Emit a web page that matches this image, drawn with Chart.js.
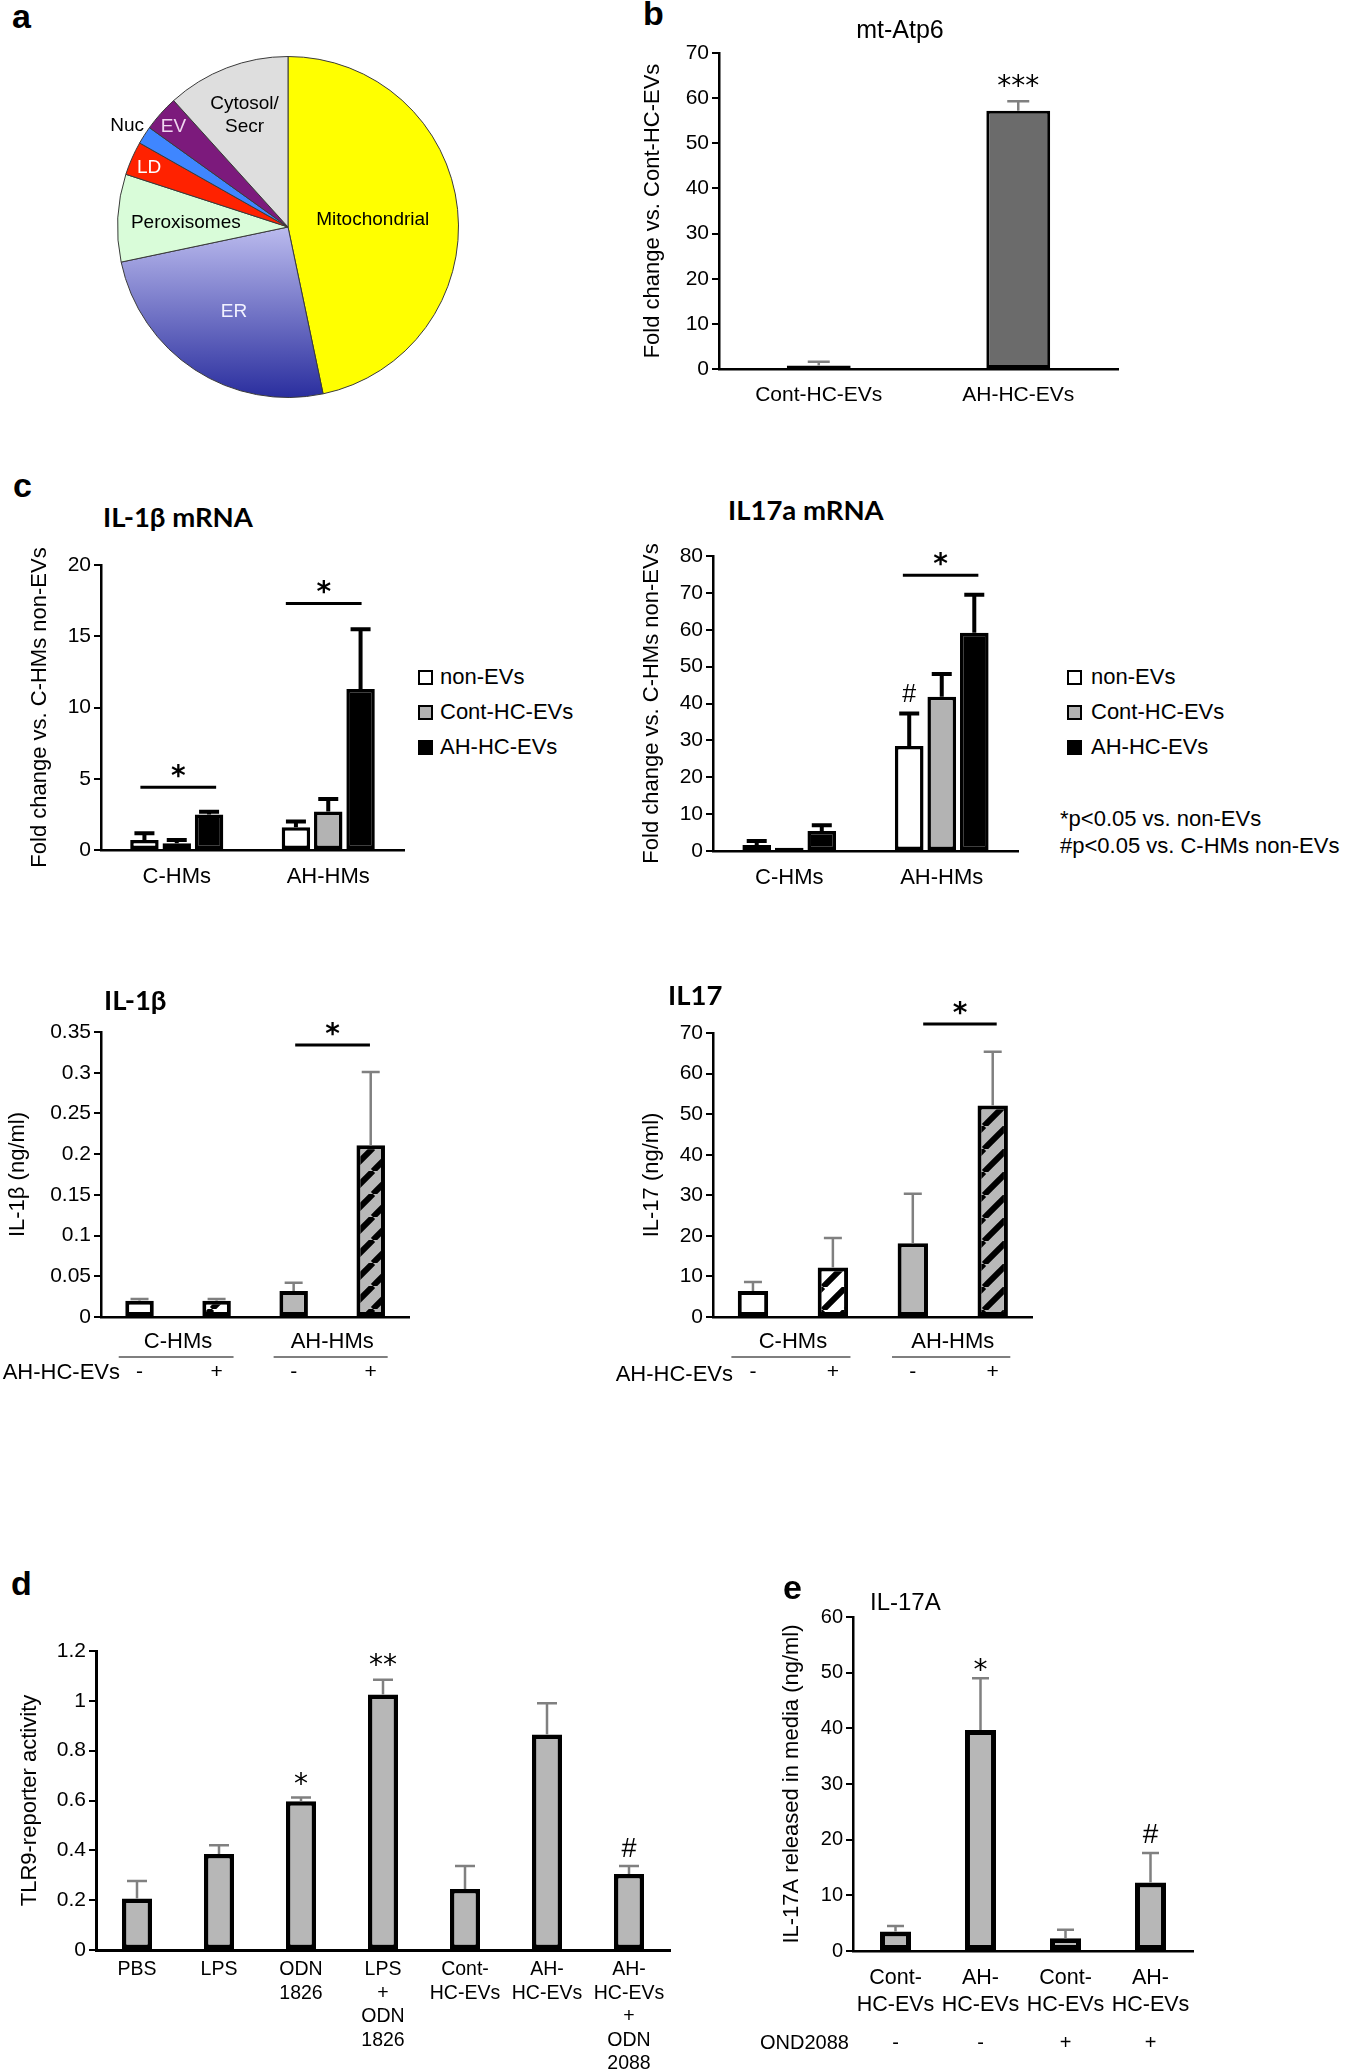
<!DOCTYPE html>
<html><head><meta charset="utf-8"><title>Figure</title>
<script src="https://cdn.jsdelivr.net/npm/chart.js@4.4.1/dist/chart.umd.min.js"></script>
<style>
html,body{margin:0;padding:0;background:#fff;}
body{width:1351px;height:2070px;position:relative;overflow:hidden;}
.box{position:absolute;}
.box canvas{display:block;}
.t{position:absolute;white-space:nowrap;line-height:1;color:#000;font-family:"Liberation Sans",Arial,sans-serif;}
.lg{position:absolute;width:15px;height:15px;box-sizing:border-box;border:2.5px solid #000;}
</style></head><body>
<script>
// ================= DATA =================
// a : subcellular distribution
const pieCategories = ['Mitochondrial', 'ER', 'Peroxisomes', 'LD', 'Nuc', 'EV', ['Cytosol/', 'Secr']];
const pieShares = [46.7, 25.0, 8.3, 3.2, 1.7, 3.4, 11.7];
// b : mt-Atp6
const bCategories = ['Cont-HC-EVs', 'AH-HC-EVs'];
const bMeans = [0.8, 57.2];
const bSem = [0.8, 2.1];
const bTickLabels = ['0', '10', '20', '30', '40', '50', '60', '70'];
// c : IL-1b mRNA
const cGroups = ['C-HMs', 'AH-HMs'];
const cSeries = ['non-EVs', 'Cont-HC-EVs', 'AH-HC-EVs'];
const c1NonEVs = [0.7, 1.6];
const c1NonEVsSem = [0.47, 0.4];
const c1ContEVs = [0.47, 2.7];
const c1ContEVsSem = [0.23, 0.88];
const c1AHEVs = [2.5, 11.3];
const c1AHEVsSem = [0.19, 4.2];
const c1TickLabels = ['0', '5', '10', '15', '20'];
// c : IL17a mRNA
const c2NonEVs = [1.6, 28.5];
const c2NonEVsSem = [1.1, 8.8];
const c2ContEVs = [0.9, 41.8];
const c2ContEVsSem = [0, 6.2];
const c2AHEVs = [5.4, 59.2];
const c2AHEVsSem = [1.6, 10.3];
const c2TickLabels = ['0', '10', '20', '30', '40', '50', '60', '70', '80'];
// c : protein
const cEVsSigns = ['-', '+', '-', '+'];
const c3Means = [0.020, 0.020, 0.032, 0.211];
const c3Sem = [0.002, 0.002, 0.010, 0.090];
const c3TickLabels = ['0', '0.05', '0.1', '0.15', '0.2', '0.25', '0.3', '0.35'];
const c4Means = [6.4, 12.2, 18.2, 52.1];
const c4Sem = [2.2, 7.3, 12.2, 13.3];
const c4TickLabels = ['0', '10', '20', '30', '40', '50', '60', '70'];
// d : TLR9 reporter
const dCategories = [['PBS'], ['LPS'], ['ODN', '1826'], ['LPS', '+', 'ODN', '1826'], ['Cont-', 'HC-EVs'], ['AH-', 'HC-EVs'], ['AH-', 'HC-EVs', '+', 'ODN', '2088']];
const dMeans = [0.207, 0.385, 0.597, 1.025, 0.245, 0.865, 0.305];
const dSem = [0.070, 0.035, 0.015, 0.060, 0.092, 0.125, 0.032];
const dTickLabels = ['0', '0.2', '0.4', '0.6', '0.8', '1', '1.2'];
// e : IL-17A
const eCategories = [['Cont-', 'HC-EVs'], ['AH-', 'HC-EVs'], ['Cont-', 'HC-EVs'], ['AH-', 'HC-EVs']];
const eOND2088 = ['-', '-', '+', '+'];
const eMeans = [3.5, 39.7, 2.3, 12.3];
const eSem = [1.0, 9.3, 1.5, 5.3];
const eTickLabels = ['0', '10', '20', '30', '40', '50', '60'];

// ================= STYLE / HELPERS =================
const LIB = "'Liberation Sans', Arial, sans-serif";
const DJV = "'DejaVu Sans', sans-serif";
const LATO = "Lato, 'Liberation Sans', sans-serif";
Chart.defaults.font.family = LIB;
Chart.defaults.color = '#000';

function T(text, x, base, size, o) {
  o = o || {};
  const d = document.createElement('div');
  d.className = 't';
  d.textContent = text;
  d.style.fontFamily = o.family || LIB;
  d.style.fontSize = size + 'px';
  if (o.bold) d.style.fontWeight = 'bold';
  const asc = o.asc || 0.8465;
  d.style.top = (base - asc * size) + 'px';
  if (o.align === 'center') { d.style.left = x + 'px'; d.style.transform = 'translateX(-50%)'; }
  else if (o.align === 'right') { d.style.right = (1351 - x) + 'px'; }
  else d.style.left = x + 'px';
  if (o.color) d.style.color = o.color;
  document.body.appendChild(d);
  return d;
}
function canvasFor(area, m) {
  const W = Math.round(area[2] - area[0] + m.l + m.r), H = Math.round(area[3] - area[1] + m.t + m.b);
  const div = document.createElement('div');
  div.className = 'box';
  div.style.left = (area[0] - m.l) + 'px';
  div.style.top = (area[1] - m.t) + 'px';
  div.style.width = W + 'px'; div.style.height = H + 'px';
  const c = document.createElement('canvas');
  c.width = W; c.height = H; c.style.width = W + 'px'; c.style.height = H + 'px';
  div.appendChild(c);
  document.body.appendChild(div);
  return c;
}
function hatch(bg) {
  const s = 23, p = document.createElement('canvas');
  p.width = s; p.height = s;
  const g = p.getContext('2d');
  g.fillStyle = bg; g.fillRect(0, 0, s, s);
  g.strokeStyle = '#000'; g.lineWidth = 6;
  g.beginPath();
  for (let k = -1; k <= 1; k++) { g.moveTo(k * s, s); g.lineTo(k * s + s, 0); }
  g.stroke();
  return g.createPattern(p, 'repeat');
}
function decor(cfg) {
  return {
    id: 'decor',
    afterDatasetsDraw(chart) {
      const ctx = chart.ctx, xs = chart.scales.x, ys = chart.scales.y, ca = chart.chartArea;
      const cx = f => { const p0 = xs.getPixelForValue(0), p1 = xs.getPixelForValue(1); return p0 + f * (p1 - p0); };
      ctx.save();
      (cfg.sem || []).forEach((arr, di) => {
        const meta = chart.getDatasetMeta(di), vals = chart.data.datasets[di].data;
        arr.forEach((s, i) => {
          if (!s) return;
          const x = meta.data[i].x, yb = ys.getPixelForValue(vals[i]), yt = ys.getPixelForValue(vals[i] + s);
          ctx.strokeStyle = cfg.errColor; ctx.lineWidth = cfg.errW; ctx.lineCap = 'butt';
          ctx.beginPath();
          ctx.moveTo(x, yb); ctx.lineTo(x, yt);
          ctx.moveTo(x - cfg.cap / 2, yt); ctx.lineTo(x + cfg.cap / 2, yt);
          ctx.stroke();
        });
      });
      ctx.fillStyle = '#000'; ctx.textAlign = 'center'; ctx.textBaseline = 'alphabetic';
      (cfg.marks || []).forEach(m => {
        const el = chart.getDatasetMeta(m.ds).data[m.i];
        const v = chart.data.datasets[m.ds].data[m.i] + (cfg.sem[m.ds][m.i] || 0);
        const cy = ys.getPixelForValue(v) - m.gap;
        ctx.font = (m.bold ? 'bold ' : '') + m.size + 'px ' + m.fam;
        ctx.fillText(m.text, el.x, cy + m.k * m.size);
      });
      (cfg.sig || []).forEach(s => {
        const y = ys.getPixelForValue(s.y);
        ctx.strokeStyle = '#000'; ctx.lineWidth = 3;
        ctx.beginPath(); ctx.moveTo(cx(s.a), y); ctx.lineTo(cx(s.b), y); ctx.stroke();
        ctx.font = 'bold 28px ' + DJV;
        ctx.fillText('*', (cx(s.a) + cx(s.b)) / 2, y - 18 + 0.56 * 28);
      });
      if (cfg.groups) {
        const g = cfg.groups;
        g.items.forEach(it => {
          ctx.font = g.size + 'px ' + LIB;
          ctx.fillText(it.text, (cx(it.a) + cx(it.b)) / 2, ca.bottom + g.textDy + 0.36 * g.size);
          ctx.strokeStyle = '#555'; ctx.lineWidth = 1.5;
          ctx.beginPath(); ctx.moveTo(cx(it.u0), ca.bottom + g.lineDy); ctx.lineTo(cx(it.u1), ca.bottom + g.lineDy); ctx.stroke();
        });
      }
      if (cfg.row) {
        ctx.font = cfg.row.size + 'px ' + LIB;
        cfg.row.signs.forEach((t, i) => ctx.fillText(t, xs.getPixelForValue(i), ca.bottom + cfg.row.dy + 0.36 * cfg.row.size));
      }
      ctx.restore();
    }
  };
}
function barChart(o) {
  const cv = canvasFor(o.area, o.m);
  const m = o.m;
  return new Chart(cv, {
    type: 'bar',
    data: {
      labels: o.labels,
      datasets: o.datasets.map(d => Object.assign({
        borderColor: '#000', borderWidth: o.bw, borderSkipped: false,
        categoryPercentage: o.catPct, barPercentage: o.barPct
      }, d))
    },
    options: {
      responsive: false, animation: false, devicePixelRatio: 1, events: [],
      layout: { padding: { left: 0, top: m.t, right: m.r, bottom: 0 } },
      plugins: { legend: { display: false }, tooltip: { enabled: false } },
      scales: {
        x: {
          grid: { display: false, drawTicks: false },
          border: { display: true, color: '#000', width: o.axisW },
          ticks: { font: { size: o.xFont, family: LIB, lineHeight: o.xLH || 1.2 }, padding: o.xPad, autoSkip: false, maxRotation: 0, minRotation: 0, color: '#000' },
          afterFit(s) { s.height = m.b; }
        },
        y: {
          min: 0, max: o.max,
          ticks: { stepSize: o.step, font: { size: o.yFont, family: LIB }, padding: 3, color: '#000', callback: (v, i) => (o.ticks[i] !== undefined ? o.ticks[i] : '') },
          grid: { display: true, drawOnChartArea: false, drawTicks: true, tickLength: 7, color: '#000', lineWidth: 2 },
          border: { display: true, color: '#000', width: o.axisW },
          title: { display: true, text: o.yTitle, font: { size: o.yTitleFont, family: LIB }, padding: 0, color: '#000' },
          afterFit(s) { s.width = m.l; }
        }
      }
    },
    plugins: [decor(o.decor)]
  });
}

// ================= PANEL a (pie) =================
const pieColors = ['#FFFF00', '#7C7CD0', '#D9FCD9', '#FF2200', '#3F86FF', '#7C1A7C', '#DEDEDE'];
const pieLabelRadius = [0.5, 0.58, 0.6, 0.89, 1.12, 0.9, 0.71];
const pieLabelColors = ['#000', '#F2F2FF', '#000', '#FFF', '#000', '#F0D6F0', '#000'];
const pieCv = canvasFor([117, 56, 459, 398], { l: 57, t: 26, r: 57, b: 26 });
new Chart(pieCv, {
  type: 'pie',
  data: {
    labels: pieCategories,
    datasets: [{
      data: pieShares,
      backgroundColor: (c) => {
        if (c.dataIndex === 1) {
          const ca = c.chart.chartArea;
          if (!ca) return pieColors[1];
          const cy = (ca.top + ca.bottom) / 2;
          const g = c.chart.ctx.createLinearGradient(0, cy, 0, ca.bottom);
          g.addColorStop(0, '#BBBBEE'); g.addColorStop(1, '#2A2E9E');
          return g;
        }
        return pieColors[c.dataIndex];
      },
      borderColor: '#3a3a3a', borderWidth: 1, hoverOffset: 0
    }]
  },
  options: {
    responsive: false, animation: false, devicePixelRatio: 1, events: [],
    layout: { padding: { left: 57, top: 26, right: 57, bottom: 26 } },
    plugins: { legend: { display: false }, tooltip: { enabled: false } }
  },
  plugins: [{
    id: 'pieLabels',
    afterDatasetsDraw(chart) {
      const ctx = chart.ctx, meta = chart.getDatasetMeta(0);
      ctx.save();
      ctx.font = '19px ' + LIB; ctx.textAlign = 'center'; ctx.textBaseline = 'alphabetic';
      meta.data.forEach((arc, i) => {
        const p = arc.getProps(['startAngle', 'endAngle', 'outerRadius', 'x', 'y'], true);
        const a = (p.startAngle + p.endAngle) / 2, r = p.outerRadius * pieLabelRadius[i];
        const px = p.x + Math.cos(a) * r, py = p.y + Math.sin(a) * r;
        const lines = [].concat(chart.data.labels[i]);
        ctx.fillStyle = pieLabelColors[i];
        lines.forEach((ln, k) => ctx.fillText(ln, px, py + (k - (lines.length - 1) / 2) * 23 + 0.36 * 19));
      });
      ctx.restore();
    }
  }]
});

// ================= PANEL b =================
barChart({
  area: [719, 53, 1118, 369], m: { l: 79, t: 20, r: 12, b: 50 },
  labels: bCategories,
  datasets: [{ data: bMeans, backgroundColor: '#6B6B6B' }],
  bw: 3, catPct: 1, barPct: 0.32, axisW: 2.5,
  max: 70, step: 10, ticks: bTickLabels, yFont: 21, xFont: 21, xPad: 13.4,
  yTitle: 'Fold change vs. Cont-HC-EVs', yTitleFont: 22,
  decor: { sem: [bSem], errColor: '#808080', errW: 2.5, cap: 22,
    marks: [{ ds: 0, i: 1, text: '***', fam: DJV, size: 28, gap: 22, k: 0.56 }] }
});

// ================= PANEL c : mRNA =================
const cSeriesColors = ['#FFFFFF', '#B3B3B3', '#000000'];
barChart({
  area: [101, 565, 404, 850], m: { l: 74, t: 20, r: 6, b: 45 },
  labels: cGroups,
  datasets: [
    { label: cSeries[0], data: c1NonEVs, backgroundColor: cSeriesColors[0] },
    { label: cSeries[1], data: c1ContEVs, backgroundColor: cSeriesColors[1] },
    { label: cSeries[2], data: c1AHEVs, backgroundColor: cSeriesColors[2] }
  ],
  bw: 3.5, catPct: 0.64, barPct: 0.88, axisW: 2.5,
  max: 20, step: 5, ticks: c1TickLabels, yFont: 21, xFont: 22, xPad: 13.8,
  yTitle: 'Fold change vs. C-HMs non-EVs', yTitleFont: 22,
  decor: { sem: [c1NonEVsSem, c1ContEVsSem, c1AHEVsSem], errColor: '#000', errW: 4, cap: 20,
    sig: [{ a: -0.24, b: 0.26, y: 4.4 }, { a: 0.72, b: 1.22, y: 17.3 }] }
});
barChart({
  area: [713, 556, 1018, 851], m: { l: 74, t: 20, r: 6, b: 45 },
  labels: cGroups,
  datasets: [
    { label: cSeries[0], data: c2NonEVs, backgroundColor: cSeriesColors[0] },
    { label: cSeries[1], data: c2ContEVs, backgroundColor: cSeriesColors[1] },
    { label: cSeries[2], data: c2AHEVs, backgroundColor: cSeriesColors[2] }
  ],
  bw: 3.5, catPct: 0.64, barPct: 0.88, axisW: 2.5,
  max: 80, step: 10, ticks: c2TickLabels, yFont: 21, xFont: 22, xPad: 13.8,
  yTitle: 'Fold change vs. C-HMs non-EVs', yTitleFont: 22,
  decor: { sem: [c2NonEVsSem, c2ContEVsSem, c2AHEVsSem], errColor: '#000', errW: 4, cap: 20,
    marks: [{ ds: 0, i: 1, text: '#', fam: LIB, size: 25, gap: 20, k: 0.35 }],
    sig: [{ a: 0.745, b: 1.24, y: 74.8 }] }
});

// ================= PANEL c : protein =================
const groupCfg = (size) => ({ size: size, textDy: 23, lineDy: 40, items: [
  { text: cGroups[0], a: 0, b: 1, u0: -0.27, u1: 1.22 },
  { text: cGroups[1], a: 2, b: 3, u0: 1.74, u1: 3.22 }] });
barChart({
  area: [101, 1032, 414, 1317], m: { l: 96, t: 45, r: 6, b: 75 },
  labels: cEVsSigns,
  datasets: [{ data: c3Means, backgroundColor: ['#FFFFFF', hatch('#FFFFFF'), '#B8B8B8', hatch('#B8B8B8')] }],
  bw: 4, catPct: 1, barPct: 0.37, axisW: 2.5,
  max: 0.35, step: 0.05, ticks: c3TickLabels, yFont: 21, xFont: 21, xPad: 42.4,
  yTitle: 'IL-1\u03b2 (ng/ml)', yTitleFont: 22,
  decor: { sem: [c3Sem], errColor: '#808080', errW: 2.5, cap: 18,
    sig: [{ a: 2.02, b: 2.99, y: 0.334 }], groups: groupCfg(22) }
});
barChart({
  area: [713, 1033, 1036, 1317], m: { l: 74, t: 45, r: 6, b: 75 },
  labels: cEVsSigns,
  datasets: [{ data: c4Means, backgroundColor: ['#FFFFFF', hatch('#FFFFFF'), '#B8B8B8', hatch('#B8B8B8')] }],
  bw: 4, catPct: 1, barPct: 0.38, axisW: 2.5,
  max: 70, step: 10, ticks: c4TickLabels, yFont: 21, xFont: 21, xPad: 42.4,
  yTitle: 'IL-17 (ng/ml)', yTitleFont: 22,
  decor: { sem: [c4Sem], errColor: '#808080', errW: 2.5, cap: 18,
    sig: [{ a: 2.13, b: 3.05, y: 72.2 }], groups: groupCfg(22) }
});

// ================= PANEL d =================
barChart({
  area: [96, 1651, 670, 1950], m: { l: 79, t: 31, r: 10, b: 120 },
  labels: dCategories,
  datasets: [{ data: dMeans, backgroundColor: '#B7B7B7' }],
  bw: 4.5, catPct: 1, barPct: 0.366, axisW: 3,
  max: 1.2, step: 0.2, ticks: dTickLabels, yFont: 21, xFont: 19.5, xLH: 1.2, xPad: 8.3,
  yTitle: 'TLR9-reporter activity', yTitleFont: 22,
  decor: { sem: [dSem], errColor: '#808080', errW: 2.5, cap: 20,
    marks: [
      { ds: 0, i: 2, text: '*', fam: DJV, size: 28, gap: 20, k: 0.56 },
      { ds: 0, i: 3, text: '**', fam: DJV, size: 28, gap: 21, k: 0.56 },
      { ds: 0, i: 6, text: '#', fam: LIB, size: 27, gap: 18, k: 0.35 }] }
});

// ================= PANEL e =================
barChart({
  area: [853, 1617, 1193, 1951], m: { l: 74, t: 17, r: 12, b: 119 },
  labels: eCategories,
  datasets: [{ data: eMeans, backgroundColor: '#B7B7B7' }],
  bw: 5, catPct: 1, barPct: 0.365, axisW: 2.5,
  max: 60, step: 10, ticks: eTickLabels, yFont: 20, xFont: 21.5, xLH: 1.256, xPad: 13.5,
  yTitle: 'IL-17A released in media (ng/ml)', yTitleFont: 22,
  decor: { sem: [eSem], errColor: '#808080', errW: 2.5, cap: 17,
    marks: [
      { ds: 0, i: 1, text: '*', fam: DJV, size: 28, gap: 15, k: 0.56 },
      { ds: 0, i: 3, text: '#', fam: LIB, size: 28, gap: 20, k: 0.35 }],
    row: { signs: eOND2088, dy: 91, size: 20 } }
});

// ================= TEXT =================
T('a', 12, 28, 34, { bold: true });
T('b', 643, 25, 34, { bold: true });
T('c', 13, 497, 34, { bold: true });
T('d', 11, 1595, 34, { bold: true });
T('e', 783, 1599, 34, { bold: true });
T('mt-Atp6', 900, 38, 25, { align: 'center' });
T('IL-1\u03b2 mRNA', 103, 527, 27.5, { bold: true, family: LATO, asc: 0.887 });
T('IL17a mRNA', 728, 520, 27.5, { bold: true, family: LATO, asc: 0.887 });
T('IL-1\u03b2', 104, 1010, 27.5, { bold: true, family: LATO, asc: 0.887 });
T('IL17', 668, 1005, 27.5, { bold: true, family: LATO, asc: 0.887 });
T('IL-17A', 870, 1610, 24);
T('AH-HC-EVs', 120, 1372 + 0.36 * 22, 22, { align: 'right' });
T('AH-HC-EVs', 733, 1374 + 0.36 * 22, 22, { align: 'right' });
T('OND2088', 760, 2042 + 0.36 * 20, 20);
// legends
const legendRows = [677, 712, 747];
[[418, 440], [1067, 1091]].forEach(([sx, tx]) => {
  cSeries.forEach((name, i) => {
    const sq = document.createElement('div');
    sq.className = 'lg';
    sq.style.left = sx + 'px'; sq.style.top = (legendRows[i] - 7.5) + 'px';
    sq.style.background = cSeriesColors[i];
    document.body.appendChild(sq);
    T(name, tx, legendRows[i] + 0.36 * 22, 22);
  });
});
T('*p<0.05 vs. non-EVs', 1060, 819 + 0.36 * 22, 22);
T('#p<0.05 vs. C-HMs non-EVs', 1060, 846 + 0.36 * 22, 22);
</script>
</body></html>
